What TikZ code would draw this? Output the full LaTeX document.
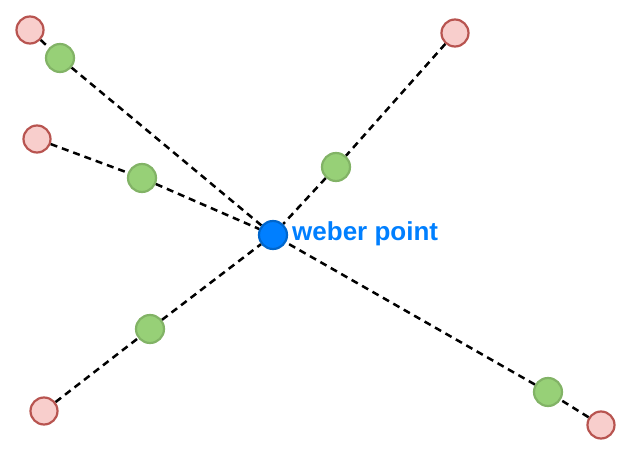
\documentclass[tikz,border=0pt]{standalone}
\usepackage{fontspec}
\setmainfont{Liberation Sans}
\usetikzlibrary{positioning}
\definecolor{redfill}{HTML}{F8CECC}
\definecolor{redline}{HTML}{B85450}
\definecolor{greenfill}{HTML}{97D077}
\definecolor{greenline}{HTML}{82B366}
\definecolor{weberfill}{HTML}{007FFF}
\definecolor{weberline}{HTML}{0066CC}

\begin{document}
\begin{tikzpicture}[x=1pt, y=-1pt,
  site/.style={circle, draw=redline, fill=redfill, line width=2.2pt, minimum size=27pt, inner sep=0pt},
  mid/.style={circle, draw=greenline, fill=greenfill, line width=2.2pt, minimum size=28pt, inner sep=0pt},
  weber/.style={circle, draw=weberline, fill=weberfill, line width=2.2pt, minimum size=28pt, inner sep=0pt},
  link/.style={line width=2.5pt, dash pattern=on 7pt off 5pt}]
\useasboundingbox (0,0) rectangle (633,457);

% Weber point
\node[weber] (W) at (273,235) {};
\node[font=\bfseries\fontsize{26}{30}\selectfont, text=weberfill, anchor=west, inner sep=0pt] (L) at (292,234) {weber point};

% Sites
\node[site] (R1) at (30,30) {};
\node[site] (R2) at (37,139) {};
\node[site] (R3) at (455,33) {};
\node[site] (R4) at (44,411) {};
\node[site] (R5) at (601,425) {};

% Midpoints
\node[mid] (G1) at (60,58) {};
\node[mid] (G2) at (142,178) {};
\node[mid] (G3) at (336,167) {};
\node[mid] (G4) at (150,329) {};
\node[mid] (G5) at (548,392) {};

% Lines
\draw[link] (R1) -- (G1) -- (W);
\draw[link] (R2) -- (G2) -- (W);
\draw[link] (R3) -- (G3) -- (W);
\draw[link] (R4) -- (G4) -- (W);
\draw[link] (R5) -- (G5) -- (W);

\end{tikzpicture}
\end{document}
